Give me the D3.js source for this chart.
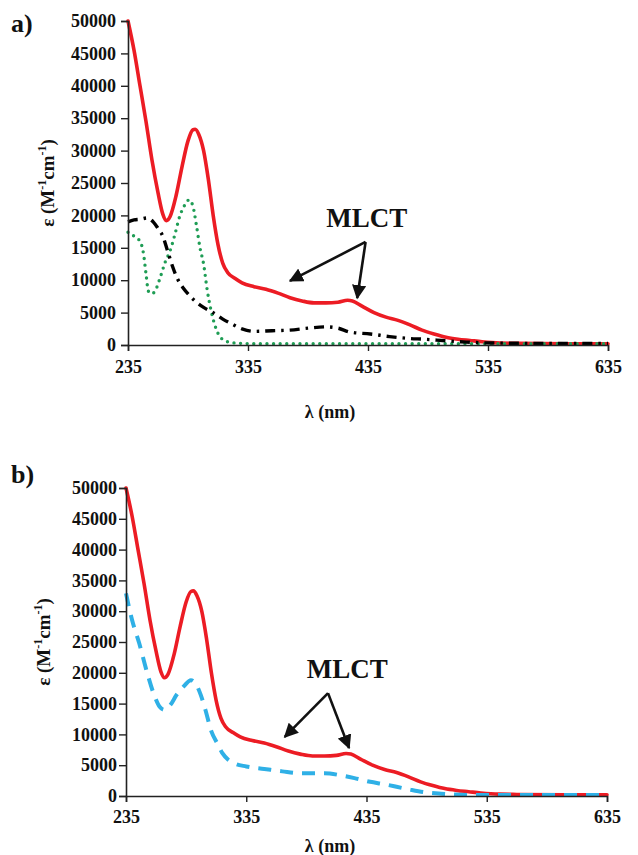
<!DOCTYPE html>
<html>
<head>
<meta charset="utf-8">
<script src="https://cdn.jsdelivr.net/npm/d3@7"></script>
<style>
  body { margin: 0; background: #fff; }
  text { font-family: "Liberation Serif", "Times New Roman", serif; font-weight: bold; fill: #111; }
</style>
</head>
<body>
<div id="chart-area"></div>
<script>
// wavelength (nm) and extinction coefficient
var redNm  = [235, 240, 245, 250, 255, 260, 264, 267, 270, 275, 280, 285, 289, 291, 294, 298, 302, 306, 310, 314, 318, 324, 330, 340, 350, 360, 370, 380, 390, 400, 410, 418, 422, 430, 440, 450, 460, 470, 480, 490, 500, 510, 520, 530, 545, 560, 600, 635];
var redEps = [50000, 45500, 40000, 34500, 28500, 23500, 20200, 19200, 19800, 23000, 27500, 31500, 33200, 33300, 32500, 30000, 25500, 20000, 15500, 12600, 11200, 10300, 9600, 9000, 8600, 8000, 7300, 6800, 6500, 6500, 6600, 6900, 6800, 6000, 5000, 4300, 3800, 3100, 2300, 1700, 1200, 900, 700, 500, 300, 250, 200, 200];

var blackNm  = [235, 240, 245, 251, 256, 260, 264, 268, 272, 276, 281, 286, 292, 298, 306, 314, 322, 330, 340, 355, 370, 385, 400, 410, 420, 437, 453, 470, 481, 500, 517, 540, 580, 635];
var blackEps = [19000, 19300, 19400, 19600, 19000, 18000, 16800, 14500, 12200, 10300, 8800, 7700, 6600, 5800, 5000, 4000, 3200, 2500, 2100, 2200, 2300, 2600, 2800, 2600, 2000, 1700, 1300, 1000, 900, 650, 450, 300, 250, 250];

var greenNm  = [235, 240, 245, 248, 250, 252, 255, 258, 262, 266, 270, 274, 278, 282, 286, 289, 292, 295, 298, 301, 304, 307, 310, 313, 318, 325, 340, 635];
var greenEps = [17400, 16800, 16000, 14000, 11000, 8300, 7900, 8500, 10500, 12800, 14500, 17000, 19800, 21500, 22400, 21500, 18500, 15000, 12500, 8500, 5500, 3300, 1800, 1000, 500, 300, 200, 200];

var blueNm  = [235, 240, 246, 252, 259, 263, 267, 272, 277, 283, 289, 293, 297, 301, 306, 311, 315, 320, 325, 335, 350, 365, 380, 400, 415, 425, 438, 450, 460, 472, 482, 495, 505, 530, 635];
var blueEps = [32900, 28600, 24800, 20400, 16100, 14500, 14000, 14800, 16400, 17800, 18800, 18200, 16500, 14000, 10500, 8500, 7000, 5900, 5300, 4800, 4400, 4000, 3700, 3700, 3300, 2900, 2300, 1900, 1500, 1000, 650, 400, 250, 150, 150];

var xTicks = [235, 335, 435, 535, 635];
var yTicks = [0, 5000, 10000, 15000, 20000, 25000, 30000, 35000, 40000, 45000, 50000];

var width = 638, height = 855;

var svg = d3.select("#chart-area")
    .append("svg")
        .attr("width", width)
        .attr("height", height);

function zip(xs, ys) {
    return xs.map(function(x, i){ return { nm: x, eps: ys[i] }; });
}

var styles = {
    red:   { color: "#ec1c24", width: 3.6, dash: null, cap: "round" },
    black: { color: "#000", width: 3.4, dash: "10,6,2.5,6", cap: "butt" },
    green: { color: "#1f9d55", width: 3.4, dash: "0,6.6", cap: "round" },
    blue:  { color: "#2fb0e6", width: 4, dash: "13,9", cap: "butt" }
};

var panels = [
    { label: "a)", labelY: 32, x0: 128, x1: 608, yTop: 21, yBot: 345, tickPad: 5,
      tickLabelY: 373, titleY: 418, yTitleX: 54,
      series: [["red", redNm, redEps], ["green", greenNm, greenEps], ["black", blackNm, blackEps]],
      note: { text: [434, 18200], from: [433, 15900], to: [[370, 9900], [426, 7250]] } },
    { label: "b)", labelY: 483, x0: 126, x1: 607, yTop: 488, yBot: 796, tickPad: 2,
      tickLabelY: 823, titleY: 852, yTitleX: 50,
      series: [["red", redNm, redEps], ["blue", blueNm, blueEps]],
      note: { text: [419, 19150], from: [403, 16700], to: [[367, 9600], [420.5, 7800]] } }
];

svg.append("defs").append("marker")
    .attr("id", "head")
    .attr("viewBox", "0 0 10 10")
    .attr("refX", 9).attr("refY", 5)
    .attr("markerWidth", 5.5).attr("markerHeight", 5.5)
    .attr("orient", "auto")
    .append("path")
        .attr("d", "M0,0 L10,5 L0,10 z")
        .attr("fill", "#111");

panels.forEach(function(p) {
    var x = d3.scaleLinear().domain([235, 635]).range([p.x0, p.x1]);
    var y = d3.scaleLinear().domain([0, 50000]).range([p.yBot, p.yTop]);
    var g = svg.append("g");

    // curves: red first so the others sit on top near the baseline
    var line = d3.line()
        .x(function(d){ return x(d.nm); })
        .y(function(d){ return y(d.eps); })
        .curve(d3.curveMonotoneX);

    p.series.forEach(function(s) {
        var st = styles[s[0]];
        g.append("path")
            .datum(zip(s[1], s[2]))
            .attr("d", line)
            .attr("fill", "none")
            .attr("stroke", st.color)
            .attr("stroke-width", st.width)
            .attr("stroke-linecap", st.cap)
            .attr("stroke-linejoin", "round")
            .attr("stroke-dasharray", st.dash);
    });

    var yAxis = g.append("g")
        .attr("transform", "translate(" + p.x0 + ",0)")
        .call(d3.axisLeft(y).tickValues(yTicks).tickFormat(d3.format("d")).tickSizeOuter(0).tickSize(7).tickPadding(p.tickPad));
    var xAxis = g.append("g")
        .attr("transform", "translate(0," + p.yBot + ")")
        .call(d3.axisBottom(x).tickValues(xTicks).tickSizeOuter(0).tickSize(6));

    [yAxis, xAxis].forEach(function(a) {
        a.attr("font-family", "Liberation Serif").attr("font-size", 18);
        a.select(".domain").attr("stroke", "#222").attr("stroke-width", 1.6);
        a.selectAll(".tick line").attr("stroke", "#222").attr("stroke-width", 1.4);
        a.selectAll("text").attr("font-size", 18).attr("fill", "#111")
            .attr("font-family", "Liberation Serif").attr("font-weight", "bold");
    });
    xAxis.selectAll("text").attr("y", null).attr("dy", null)
        .attr("transform", "translate(0," + (p.tickLabelY - p.yBot) + ")");

    g.append("text")
        .attr("x", 11).attr("y", p.labelY)
        .attr("font-size", 26)
        .text(p.label);

    g.append("text")
        .attr("x", 330).attr("y", p.titleY)
        .attr("text-anchor", "middle")
        .attr("font-size", 18)
        .text("λ (nm)");

    var yt = g.append("text")
        .attr("transform", "translate(" + p.yTitleX + "," + ((p.yTop + p.yBot) / 2) + ") rotate(-90)")
        .attr("text-anchor", "middle")
        .attr("font-size", 19);
    yt.append("tspan").text("ε (M");
    yt.append("tspan").attr("font-size", 12).attr("dy", -8).text("-1");
    yt.append("tspan").attr("dy", 8).text("cm");
    yt.append("tspan").attr("font-size", 12).attr("dy", -8).text("-1");
    yt.append("tspan").attr("dy", 8).text(")");

    // MLCT annotation
    g.append("text")
        .attr("x", x(p.note.text[0])).attr("y", y(p.note.text[1]))
        .attr("text-anchor", "middle")
        .attr("font-size", 27)
        .text("MLCT");

    p.note.to.forEach(function(t) {
        g.append("line")
            .attr("x1", x(p.note.from[0])).attr("y1", y(p.note.from[1]))
            .attr("x2", x(t[0])).attr("y2", y(t[1]))
            .attr("stroke", "#111")
            .attr("stroke-width", 2.6)
            .attr("marker-end", "url(#head)");
    });
});
</script>
</body>
</html>
